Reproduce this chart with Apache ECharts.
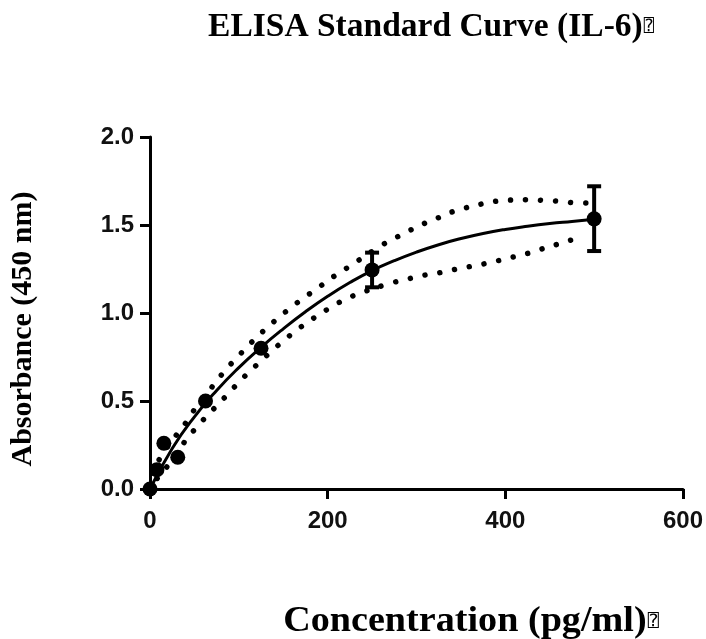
<!DOCTYPE html>
<html><head><meta charset="utf-8">
<script src="https://cdn.jsdelivr.net/npm/echarts@6/dist/echarts.min.js"></script>
<style>html,body{margin:0;padding:0;background:#fff}#c{width:706px;height:639px}</style>
</head><body><div id="c"></div>
<script>
// Measured standards
const concentration = [0, 7.8, 15.6, 31.25, 62.5, 125, 250, 500];
const absorbance    = [0, 0.11, 0.26, 0.18, 0.50, 0.80, 1.245, 1.535];
const errLow        = [null, null, null, null, null, null, 1.146, 1.352];
const errHigh       = [null, null, null, null, null, null, 1.343, 1.720];
// Fitted curve
const fitX = [0, 25, 50, 75, 100, 125, 150, 175, 200, 225, 250, 275, 300, 325, 350, 375, 400, 425, 450, 475, 500];
const fitY = [0.0, 0.23, 0.41, 0.56, 0.69, 0.805, 0.91, 1.007, 1.095, 1.173, 1.241, 1.297, 1.346, 1.388, 1.423, 1.452, 1.475, 1.493, 1.508, 1.520, 1.532];
// Confidence band (upper / lower)
const upX = [3, 11, 31, 42, 51, 73, 84, 96, 108, 120, 133, 146, 160, 174, 188, 202, 217, 232, 261, 276, 292, 308, 324, 340, 356, 373, 390, 407, 425, 443, 461, 478, 500];
const upY = [0.09, 0.172, 0.316, 0.388, 0.458, 0.60, 0.67, 0.737, 0.80, 0.862, 0.922, 0.979, 1.036, 1.089, 1.138, 1.191, 1.240, 1.29, 1.385, 1.426, 1.468, 1.507, 1.54, 1.574, 1.598, 1.619, 1.635, 1.642, 1.644, 1.64, 1.635, 1.627, 1.625];
const loX = [8, 20.6, 41, 52, 64, 76, 88, 100, 112, 124, 137, 150.6, 164, 179, 194, 209, 224, 240, 273, 290, 306, 323, 340, 356, 374, 390, 407, 424, 440, 457, 473, 490];
const loY = [0.06, 0.136, 0.282, 0.348, 0.415, 0.477, 0.541, 0.606, 0.667, 0.723, 0.784, 0.843, 0.898, 0.953, 1.002, 1.049, 1.087, 1.119, 1.172, 1.193, 1.212, 1.226, 1.244, 1.26, 1.277, 1.295, 1.316, 1.337, 1.362, 1.388, 1.413, 1.428];
const xTicks = [0, 200, 400, 600];
const yTicks = [0, 0.5, 1.0, 1.5, 2.0];
const titleText = "ELISA Standard Curve (IL-6)";
const xTitle = "Concentration (pg/ml)";
const yTitle = "Absorbance (450 nm)";
const missingGlyph = "\u2370";

const zip = (a, b) => a.map((v, i) => [v, b[i]]);
const errData = concentration.map((x, i) => [x, errLow[i], errHigh[i]]).filter(d => d[1] != null);

const chart = echarts.init(document.getElementById('c'));
const serif = '"Liberation Serif", "Times New Roman", serif';
const sans = '"Liberation Sans", Arial, sans-serif';
const dotted = {color: '#000', width: 5.5, type: [0.01, 15], cap: 'round'};
const glyphStyle = {fontFamily: '"DejaVu Sans", "DejaVu Sans Mono", sans-serif', fontSize: 17, fontWeight: 'normal', fill: '#000', padding: [0, 0, 0, 1]};
chart.setOption({
  animation: false,
  grid: {left: 150, right: 22, top: 137, bottom: 150, containLabel: false},
  graphic: [
    {type: 'text', position: [431, 27], style: {
      text: '{a|' + titleText + '}{b|' + missingGlyph + '}', x: 0, y: 0, textAlign: 'center', textVerticalAlign: 'middle',
      rich: {a: {fontFamily: serif, fontSize: 33.5, fontWeight: 'bold', fill: '#000'}, b: glyphStyle}}},
    {type: 'text', position: [471, 622], scaleX: 1.09, style: {
      text: '{a|' + xTitle + '}{b|' + missingGlyph + '}', x: 0, y: 0, textAlign: 'center', textVerticalAlign: 'middle',
      rich: {a: {fontFamily: serif, fontSize: 35, fontWeight: 'bold', fill: '#000'}, b: glyphStyle}}},
    {type: 'text', rotation: Math.PI / 2, position: [23, 329], style: {text: yTitle, x: 0, y: 0,
      font: 'bold 30px ' + serif, fill: '#000', textAlign: 'center', textVerticalAlign: 'middle'}}
  ],
  xAxis: {
    type: 'value', min: 0, max: 600, interval: 200,
    axisLine: {show: true, lineStyle: {color: '#000', width: 3}},
    axisTick: {show: true, length: 10, lineStyle: {color: '#000', width: 3}},
    axisLabel: {margin: 20, color: '#111', fontFamily: sans, fontWeight: 'bold', fontSize: 24,
      formatter: v => xTicks.includes(v) ? String(v) : ''},
    splitLine: {show: false}
  },
  yAxis: {
    type: 'value', min: 0, max: 2, interval: 0.5,
    axisLine: {show: true, lineStyle: {color: '#000', width: 3}},
    axisTick: {show: true, length: 10, lineStyle: {color: '#000', width: 3}},
    axisLabel: {margin: 16, color: '#111', fontFamily: sans, fontWeight: 'bold', fontSize: 24,
      formatter: v => yTicks.some(t => Math.abs(t - v) < 1e-9) ? v.toFixed(1) : ''},
    splitLine: {show: false}
  },
  series: [
    {type: 'line', data: zip(upX, upY), smooth: true, showSymbol: false, lineStyle: dotted, z: 2},
    {type: 'line', data: zip(loX, loY), smooth: true, showSymbol: false, lineStyle: dotted, z: 2},
    {type: 'line', data: zip(fitX, fitY), smooth: true, showSymbol: false, lineStyle: {color: '#000', width: 3}, z: 3},
    {type: 'custom', data: errData, z: 4,
      renderItem: (params, api) => {
        const top = api.coord([api.value(0), api.value(2)]);
        const bot = api.coord([api.value(0), api.value(1)]);
        const w = 7;
        const st = {stroke: '#000', lineWidth: 4};
        return {type: 'group', children: [
          {type: 'line', shape: {x1: top[0], y1: top[1], x2: bot[0], y2: bot[1]}, style: st},
          {type: 'line', shape: {x1: top[0] - w, y1: top[1], x2: top[0] + w, y2: top[1]}, style: st},
          {type: 'line', shape: {x1: bot[0] - w, y1: bot[1], x2: bot[0] + w, y2: bot[1]}, style: st}
        ]};
      }},
    {type: 'scatter', data: zip(concentration, absorbance), symbol: 'circle', symbolSize: 15,
      itemStyle: {color: '#000', opacity: 1}, z: 5, clip: false}
  ]
});
</script></body></html>
